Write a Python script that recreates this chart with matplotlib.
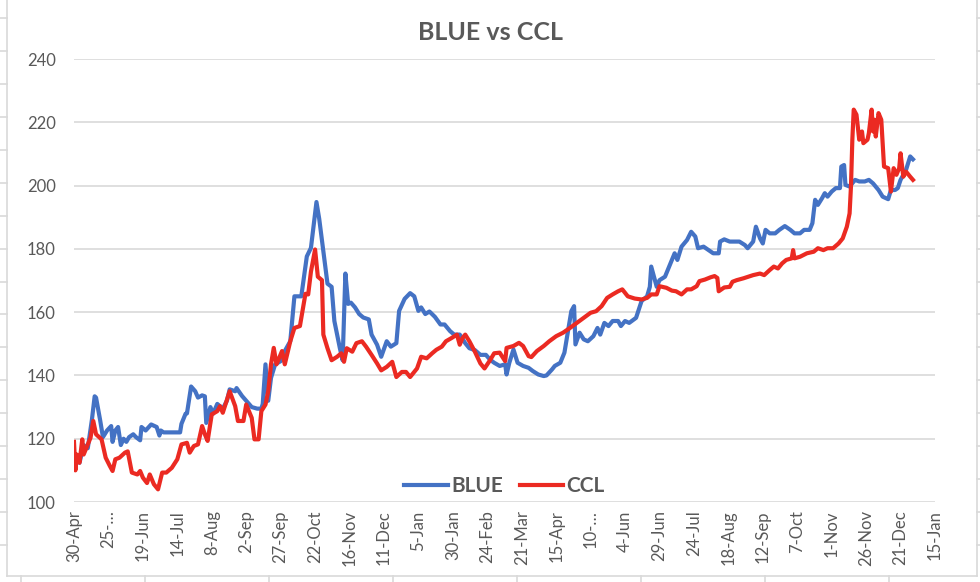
import matplotlib
matplotlib.use('Agg')
import matplotlib.pyplot as plt
from matplotlib.lines import Line2D
import numpy as np

plt.rcParams['font.family'] = ['Lato', 'DejaVu Sans']

start = np.datetime64('2020-04-30')

# days since 30-Apr-2020
blue_days = [0, 2, 4, 7, 10, 13, 15, 16, 19, 21, 24, 27, 28, 30, 32, 34, 36, 38, 40, 43,
             45, 48, 49, 52, 56, 60, 62, 63, 65, 77, 78, 81, 82, 85, 88, 90, 93, 95, 96, 99,
             101, 104, 108, 111, 113, 117, 118, 122, 125, 129, 133, 136, 137, 139, 141, 143, 146, 150, 153, 157,
             160, 165, 169, 172, 176, 178, 181, 184, 187, 189, 193, 195, 197, 199, 201, 204, 207, 210, 214, 216,
             220, 223, 227, 230, 234, 236, 240, 244, 247, 250, 252, 255, 258, 262, 266, 269, 273, 276, 280, 284,
             287, 291, 295, 299, 302, 305, 309, 313, 314, 316, 319, 322, 326, 330, 333, 337, 341, 343, 347, 349,
             353, 356, 359, 361, 363, 364, 367, 370, 373, 377, 380, 382, 385, 388, 391, 395, 397, 400, 403, 408,
             412, 416, 418, 419, 423, 425, 429, 432, 436, 438, 441, 445, 448, 451, 453, 457, 460, 464, 468, 469,
             472, 476, 480, 483, 487, 489, 493, 495, 498, 500, 502, 505, 509, 512, 516, 520, 523, 527, 530, 534,
             536, 538, 540, 543, 545, 547, 550, 553, 556, 557, 559, 560, 563, 567, 570, 574, 577, 580, 584, 587,
             591, 593, 596, 598, 600, 602, 604, 607, 609]
blue = [115, 114, 112.4, 118, 117, 126, 133.4, 133, 125.8, 120.5, 122.6, 124, 119, 122.6, 123.7, 118, 120, 119, 120.5, 121.4,
        120.5, 119.5, 123.7, 122.6, 124.5, 123.7, 121, 122.6, 122, 122, 124.7, 127.9, 128, 136.5, 135, 133, 133.7, 133.4, 125, 130,
        127.9, 131, 129.5, 132, 135.6, 135, 136, 133.5, 132, 130, 129.5, 129.5, 131, 143.5, 132, 139.2, 143.5, 144.5, 147.7, 150.8,
        165, 165, 177.6, 180.3, 194.8, 189.5, 179.2, 169, 168, 157.2, 148.6, 144.8, 172.2, 162.6, 163, 161.5, 159.4, 158.3, 157.7, 152.9,
        149.7, 145.9, 150.8, 149.1, 150.2, 160.4, 164.2, 166, 165, 160.4, 161.5, 159.4, 160.2, 158.5, 156.1, 156.1, 154, 152.9, 152.9, 150.2,
        148.6, 148, 146.5, 146.5, 145, 144, 143, 143.5, 140.3, 144, 148.2, 144, 143, 142.4, 141.4, 140.3, 139.8, 140, 141.9, 143,
        144, 147.2, 155, 160.3, 161.9, 149.8, 153.5, 151.4, 150.8, 152.4, 155, 152.9, 156.6, 155.6, 157.2, 157.2, 155.6, 157.2, 156.6, 158.2,
        163.5, 165, 168, 174.4, 168, 170.1, 171.2, 174.4, 178.6, 176.5, 180.7, 182.8, 185.4, 183.9, 180.2, 180.7, 179.8, 178.6, 178.6, 182.3,
        183, 182.3, 182.3, 182.3, 181.2, 180.2, 182.3, 187, 183.3, 181.7, 186, 184.9, 184.9, 186, 187.2, 186, 184.9, 184.9, 186, 186,
        188.1, 195.5, 193.9, 196, 197.6, 196.5, 198.1, 199.2, 199.2, 206, 206.5, 200.2, 199.7, 201.8, 201.3, 201.3, 201.8, 200.7, 198.6, 196.5,
        195.7, 198.6, 198.6, 199.2, 201.8, 203.4, 205, 209.2, 208.3]

ccl_days = [0, 1, 2, 4, 6, 7, 10, 12, 14, 16, 20, 23, 26, 28, 30, 33, 37, 39, 42, 46,
            48, 50, 53, 55, 58, 61, 64, 67, 71, 75, 78, 82, 84, 87, 90, 93, 95, 97, 100, 104,
            106, 108, 113, 117, 119, 123, 125, 129, 131, 134, 136, 139, 141, 143, 145, 147, 151, 153, 157, 160,
            164, 168, 170, 172, 175, 177, 180, 181, 184, 187, 191, 194, 196, 198, 202, 205, 209, 212, 216, 220,
            223, 227, 231, 234, 238, 241, 244, 249, 252, 256, 260, 263, 267, 270, 274, 278, 280, 282, 284, 287,
            291, 295, 298, 302, 305, 309, 313, 314, 319, 323, 326, 330, 332, 336, 341, 345, 350, 355, 360, 365,
            370, 375, 379, 383, 387, 391, 395, 398, 402, 407, 412, 416, 419, 423, 425, 430, 434, 437, 441, 445,
            448, 452, 454, 458, 462, 465, 467, 468, 472, 476, 478, 481, 486, 493, 498, 501, 505, 508, 511, 514,
            517, 521, 522, 523, 527, 532, 537, 540, 544, 547, 551, 555, 558, 561, 563, 564, 565, 566, 568, 570,
            572, 573, 576, 577, 579, 580, 581, 582, 584, 586, 588, 591, 593, 595, 597, 599, 600, 602, 604, 607,
            609]
ccl = [119, 110, 115, 112.4, 119.8, 115, 118.2, 120.3, 125.6, 121.4, 119.8, 114, 111.4, 109.8, 113.5, 114, 115.6, 116, 109.3, 108.7,
       109.8, 107.7, 106, 108.7, 105.6, 104, 109.3, 109.3, 110.8, 113.5, 118.2, 118.7, 115.6, 117.7, 118.2, 124, 121.4, 119.3, 127.7, 128.7,
       130.3, 128.2, 135, 130.3, 125.6, 125.6, 130.8, 126.6, 119.8, 119.8, 128.7, 130.8, 135, 143.5, 148.7, 143.5, 147.7, 143.5, 150.8, 155,
       155.6, 165.8, 165.6, 172.8, 179.8, 171.2, 170.1, 152.9, 148.6, 144.8, 145.9, 147, 144.3, 148.6, 147.5, 150.2, 150.8, 149.1, 146.5, 143.8,
       141.6, 142.7, 144.3, 139.5, 141.1, 141.1, 139.5, 142.2, 145.9, 145.4, 147, 148.1, 149.1, 150.8, 151.8, 152.9, 149.7, 151.8, 152.9, 150.8,
       147.5, 143.8, 142.2, 144.8, 147, 147.2, 144.5, 148.7, 149.3, 150.3, 149.3, 146.1, 145.8, 147.7, 149.3, 150.8, 152.4, 153.5, 155, 156.6,
       158.2, 159.8, 160.3, 161.9, 164.5, 165.6, 166.6, 167.2, 165, 164.3, 164, 164.5, 165.6, 165.6, 168.2, 167.7, 166.8, 166.6, 165.6, 167.2,
       167.2, 168.2, 169.8, 170.3, 171, 171.4, 170.8, 166.6, 167.8, 168, 169.6, 170.1, 170.7, 171.7, 172.2, 171.7, 173.3, 174.4, 173.8, 175.4,
       176.5, 177, 179.6, 177, 177.5, 178.6, 179.1, 180.2, 179.6, 180.2, 180.2, 181.7, 183.3, 187, 191.2, 199.7, 214.5, 224, 222.4, 214.5,
       217.1, 213.4, 214.5, 216.6, 224, 217.1, 220.8, 215.5, 222.9, 220.8, 206, 205.5, 198.1, 205.5, 203.4, 205.5, 210.2, 202.8, 204.4, 202.8,
       201.8]

tick_labels = ['30-Apr', '25-\u2026', '19-Jun', '14-Jul', '8-Aug', '2-Sep', '27-Sep', '22-Oct', '16-Nov',
               '11-Dec', '5-Jan', '30-Jan', '24-Feb', '21-Mar', '15-Apr', '10-\u2026', '4-Jun', '29-Jun',
               '24-Jul', '18-Aug', '12-Sep', '7-Oct', '1-Nov', '26-Nov', '21-Dec', '15-Jan']

blue_x = start + np.array(blue_days)
ccl_x = start + np.array(ccl_days)
tick_x = start + 25 * np.arange(len(tick_labels))

fig = plt.figure(figsize=(9.8, 5.82), dpi=100)
ax = fig.add_axes([74 / 980, 1 - 502 / 582, (935 - 74) / 980, (502 - 59) / 582])

ax.plot(blue_x, blue, color='#4472C4', lw=3, label='BLUE', solid_joinstyle='round')
ax.plot(ccl_x, ccl, color='#EB2A22', lw=3, label='CCL', solid_joinstyle='round')

ax.set_ylim(100, 240)
ax.set_yticks(np.arange(100, 241, 20))
ax.set_xlim(tick_x[0], tick_x[-1])
ax.set_xticks(tick_x)
ax.set_xticklabels(tick_labels, rotation=90)

ax.grid(axis='y', color='#D9D9D9', lw=1.2)
ax.set_axisbelow(True)
for s in ax.spines.values():
    s.set_visible(False)
ax.tick_params(axis='both', length=0, labelsize=12, labelcolor='#595959')
ax.tick_params(axis='y', pad=13)
ax.tick_params(axis='x', pad=6)

fig.text(0.5, 1 - 33 / 582, 'BLUE vs CCL', ha='center', va='center',
         fontsize=18, fontweight='bold', color='#595959')

ax.legend(loc='center', bbox_to_anchor=(0.5, 0.036), ncol=2, frameon=False,
          handlelength=2.1, handletextpad=0.15, columnspacing=0.8,
          prop={'weight': 'bold', 'size': 15}, labelcolor='#595959')

# chart border and spreadsheet cell lines behind it
gc = '#D9D9D9'
def px_line(x0, y0, x1, y1):
    fig.add_artist(Line2D([x0 / 980, x1 / 980], [1 - y0 / 582, 1 - y1 / 582],
                          transform=fig.transFigure, color=gc, lw=1.2))

px_line(7, 0, 7, 576)
px_line(977, 0, 977, 576)
px_line(7, 576, 977, 576)
for k in range(17):
    y = 18.3 + 32.9 * k
    px_line(0, y, 7, y)
    px_line(977, y, 980, y)
for k in range(8):
    x = 21 + 124 * k
    px_line(x, 576, x, 582)

fig.savefig('out.png', dpi=100)
